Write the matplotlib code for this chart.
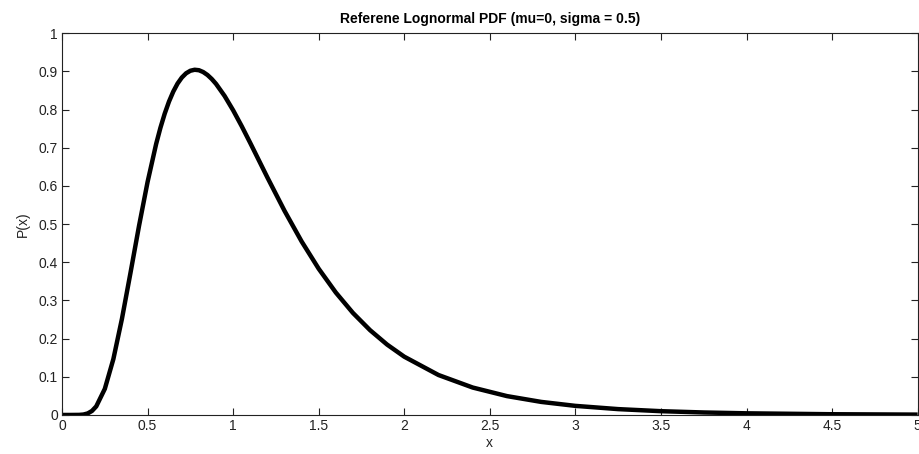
import matplotlib
matplotlib.use('Agg')
import matplotlib.pyplot as plt

# values
x_vals = [0.0, 0.05, 0.1, 0.125, 0.15, 0.175, 0.2, 0.25, 0.3, 0.35, 0.4, 0.45,
          0.5, 0.55, 0.575, 0.6, 0.625, 0.65, 0.675, 0.7, 0.725, 0.75, 0.775,
          0.8, 0.825, 0.85, 0.875, 0.9, 0.95, 1.0, 1.05, 1.1, 1.15, 1.2, 1.3,
          1.4, 1.5, 1.6, 1.7, 1.8, 1.9, 2.0, 2.2, 2.4, 2.6, 2.8, 3.0, 3.25,
          3.5, 3.75, 4.0, 4.5, 5.0]
pdf_vals = [0.0, 0.0, 0.0002, 0.0011, 0.0040, 0.0105, 0.0225, 0.0683, 0.1464,
            0.2516, 0.3721, 0.4953, 0.6104, 0.7098, 0.7521, 0.7891, 0.8207,
            0.8469, 0.8679, 0.8837, 0.8949, 0.9015, 0.9041, 0.9029, 0.8981,
            0.8904, 0.8799, 0.8671, 0.8355, 0.7979, 0.7563, 0.7123, 0.6672,
            0.6221, 0.5348, 0.4545, 0.3829, 0.3206, 0.2672, 0.2221, 0.1842,
            0.1526, 0.1046, 0.0718, 0.0494, 0.0342, 0.0238, 0.0153, 0.0099,
            0.0065, 0.0043, 0.0019, 0.0009]
x_ticks = [0, 0.5, 1, 1.5, 2, 2.5, 3, 3.5, 4, 4.5, 5]
x_labels = ['0', '0.5', '1', '1.5', '2', '2.5', '3', '3.5', '4', '4.5', '5']
y_ticks = [0, 0.1, 0.2, 0.3, 0.4, 0.5, 0.6, 0.7, 0.8, 0.9, 1]
y_labels = ['0', '0.1', '0.2', '0.3', '0.4', '0.5', '0.6', '0.7', '0.8', '0.9', '1']

plt.rcParams['font.family'] = ['Liberation Sans', 'DejaVu Sans']

fig = plt.figure(figsize=(9.19, 4.54), dpi=100)
ax = fig.add_axes([0.0675, 0.086, 0.931, 0.841])

ax.plot(x_vals, pdf_vals, color='black', linewidth=3.2,
        solid_joinstyle='round', solid_capstyle='butt')

ax.set_xlim(0, 5)
ax.set_ylim(0, 1)
ax.set_xticks(x_ticks)
ax.set_xticklabels(x_labels)
ax.set_yticks(y_ticks)
ax.set_yticklabels(y_labels)
ax.tick_params(direction='in', top=True, right=True, length=5, width=0.8,
               labelsize=10, colors='#222222', pad=3)
for sp in ax.spines.values():
    sp.set_linewidth(0.8)
    sp.set_color('#222222')

ax.set_xlabel('x', fontsize=10, color='#222222', labelpad=2)
ax.set_ylabel('P(x)', fontsize=10, color='#222222', labelpad=6)
ax.set_title('Referene Lognormal PDF (mu=0, sigma = 0.5)', fontsize=10,
             fontweight='bold', pad=7)

fig.savefig('out.png', dpi=100)
